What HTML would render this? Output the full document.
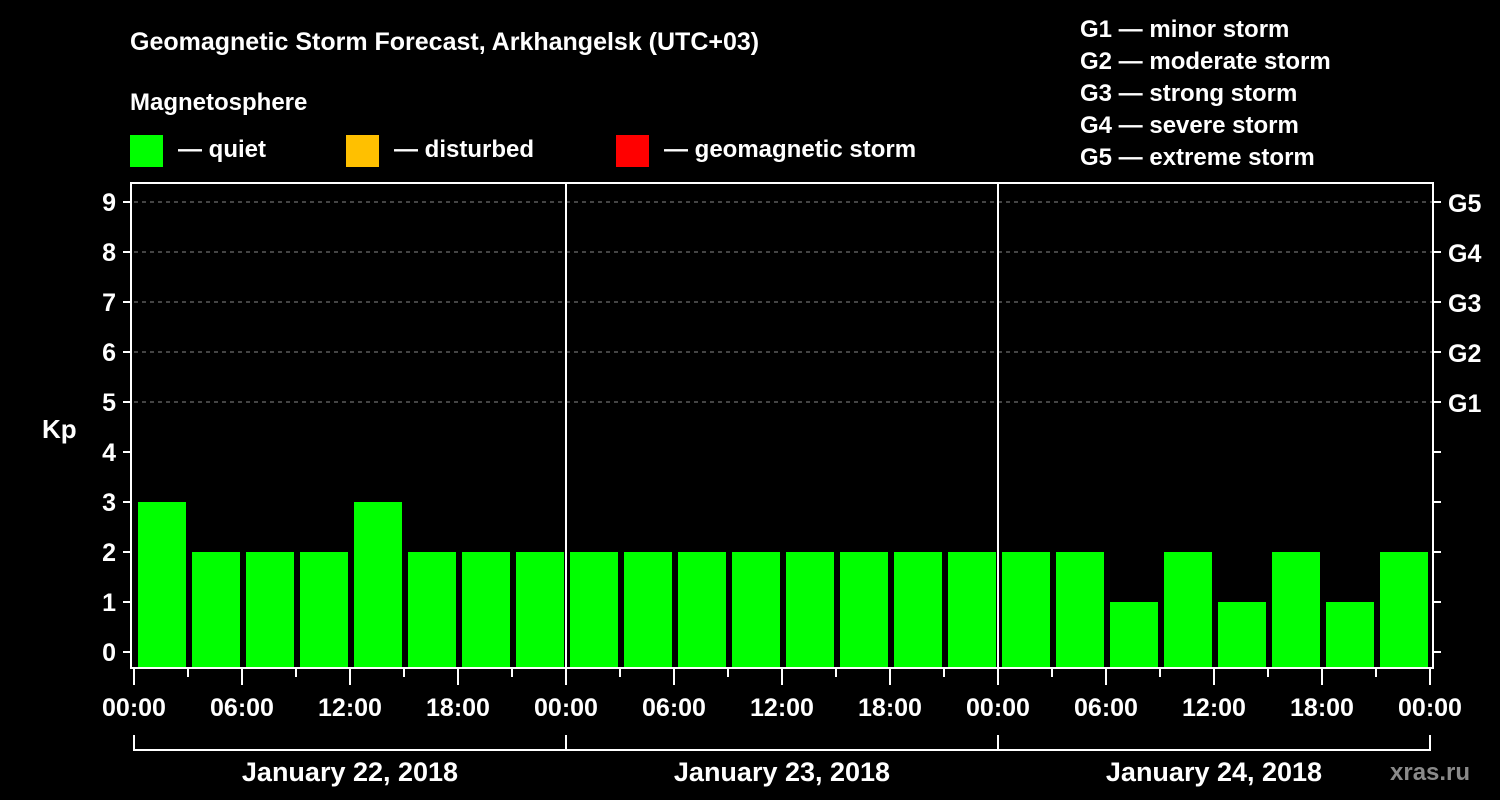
<!DOCTYPE html>
<html><head><meta charset="utf-8"><style>
body{margin:0;background:#000;width:1500px;height:800px;overflow:hidden}
svg{display:block}
text{font-family:"Liberation Sans",sans-serif;font-weight:bold;fill:#fff}
</style></head><body>
<svg id="c" width="1500" height="800">
<text x="130" y="50" font-size="25">Geomagnetic Storm Forecast, Arkhangelsk (UTC+03)</text>
<text x="130" y="110" font-size="24">Magnetosphere</text>
<rect x="130" y="135" width="33" height="32" fill="#00ff00"/>
<text x="178" y="157" font-size="24">— quiet</text>
<rect x="346" y="135" width="33" height="32" fill="#ffc000"/>
<text x="394" y="157" font-size="24">— disturbed</text>
<rect x="616" y="135" width="33" height="32" fill="#ff0000"/>
<text x="664" y="157" font-size="24">— geomagnetic storm</text>
<g font-size="24">
<text x="1080" y="37">G1 — minor storm</text>
<text x="1080" y="69">G2 — moderate storm</text>
<text x="1080" y="101">G3 — strong storm</text>
<text x="1080" y="133">G4 — severe storm</text>
<text x="1080" y="165">G5 — extreme storm</text>
</g>
<text x="42" y="438" font-size="26">Kp</text>
<text x="1390" y="780" font-size="24" fill="#888" style="fill:#8a8a8a">xras.ru</text>
<g id="plot"></g>
</svg>
<script>
const kpValues=[3,2,2,2,3,2,2,2, 2,2,2,2,2,2,2,2, 2,2,1,2,1,2,1,2];
const yTicks=[0,1,2,3,4,5,6,7,8,9];
const gLabels=["G1","G2","G3","G4","G5"];
const xLabels=["00:00","06:00","12:00","18:00","00:00","06:00","12:00","18:00","00:00","06:00","12:00","18:00","00:00"];
const dayLabels=["January 22, 2018","January 23, 2018","January 24, 2018"];
const L=134,R=1430,T=183,B=668;
const y=v=>652-50*v;
const x=h=>L+(R-L)*h/72;
const g=document.getElementById('plot');
const NS='http://www.w3.org/2000/svg';
function mk(t,a){const e=document.createElementNS(NS,t);for(const k in a)e.setAttribute(k,a[k]);g.appendChild(e);return e;}
kpValues.forEach((v,i)=>{
 const c=v>=5?'#ff0000':(v>=4?'#ffc000':'#00ff00');
 const r=mk('rect',{x:x(i*3)+4,y:y(v),width:x(3)-x(0)-6,height:B-y(v),fill:c});
 
 
});
yTicks.forEach(v=>{
 if(v>=5){const d=mk('line',{x1:L,x2:R+3,y1:y(v),y2:y(v),stroke:'#888','stroke-dasharray':'4,4','stroke-width':1});
 }
 mk('line',{x1:123,x2:131,y1:y(v),y2:y(v),stroke:'#fff','stroke-width':2});
 mk('line',{x1:1433,x2:1441,y1:y(v),y2:y(v),stroke:'#fff','stroke-width':2});
 const t=mk('text',{x:116,y:y(v)+9,'font-size':25,'text-anchor':'end'});t.textContent=v;
 
});
gLabels.forEach((s,i)=>{const t=mk('text',{x:1448,y:y(5+i)+10,'font-size':25});t.textContent=s;
 });
[24,48].forEach(h=>mk('line',{x1:x(h),x2:x(h),y1:T,y2:B,stroke:'#fff','stroke-width':2}));
const ax=mk('path',{d:`M131 ${T}H1433V${B}H131Z`,fill:'none',stroke:'#fff','stroke-width':2});

for(let h=0;h<=72;h+=3){mk('line',{x1:x(h),x2:x(h),y1:B,y2:h%6==0?685:677,stroke:'#fff','stroke-width':2});}
xLabels.forEach((s,i)=>{const t=mk('text',{x:x(i*6),y:716,'font-size':25,'text-anchor':'middle'});t.textContent=s;
 });
mk('path',{d:`M${x(0)} 735V750H${x(72)}V735`,fill:'none',stroke:'#fff','stroke-width':2});
[24,48].forEach(h=>mk('line',{x1:x(h),x2:x(h),y1:735,y2:750,stroke:'#fff','stroke-width':2}));
dayLabels.forEach((s,i)=>{const t=mk('text',{x:x(i*24+12),y:781,'font-size':27,'text-anchor':'middle'});t.textContent=s;
 });
</script>
</body></html>
